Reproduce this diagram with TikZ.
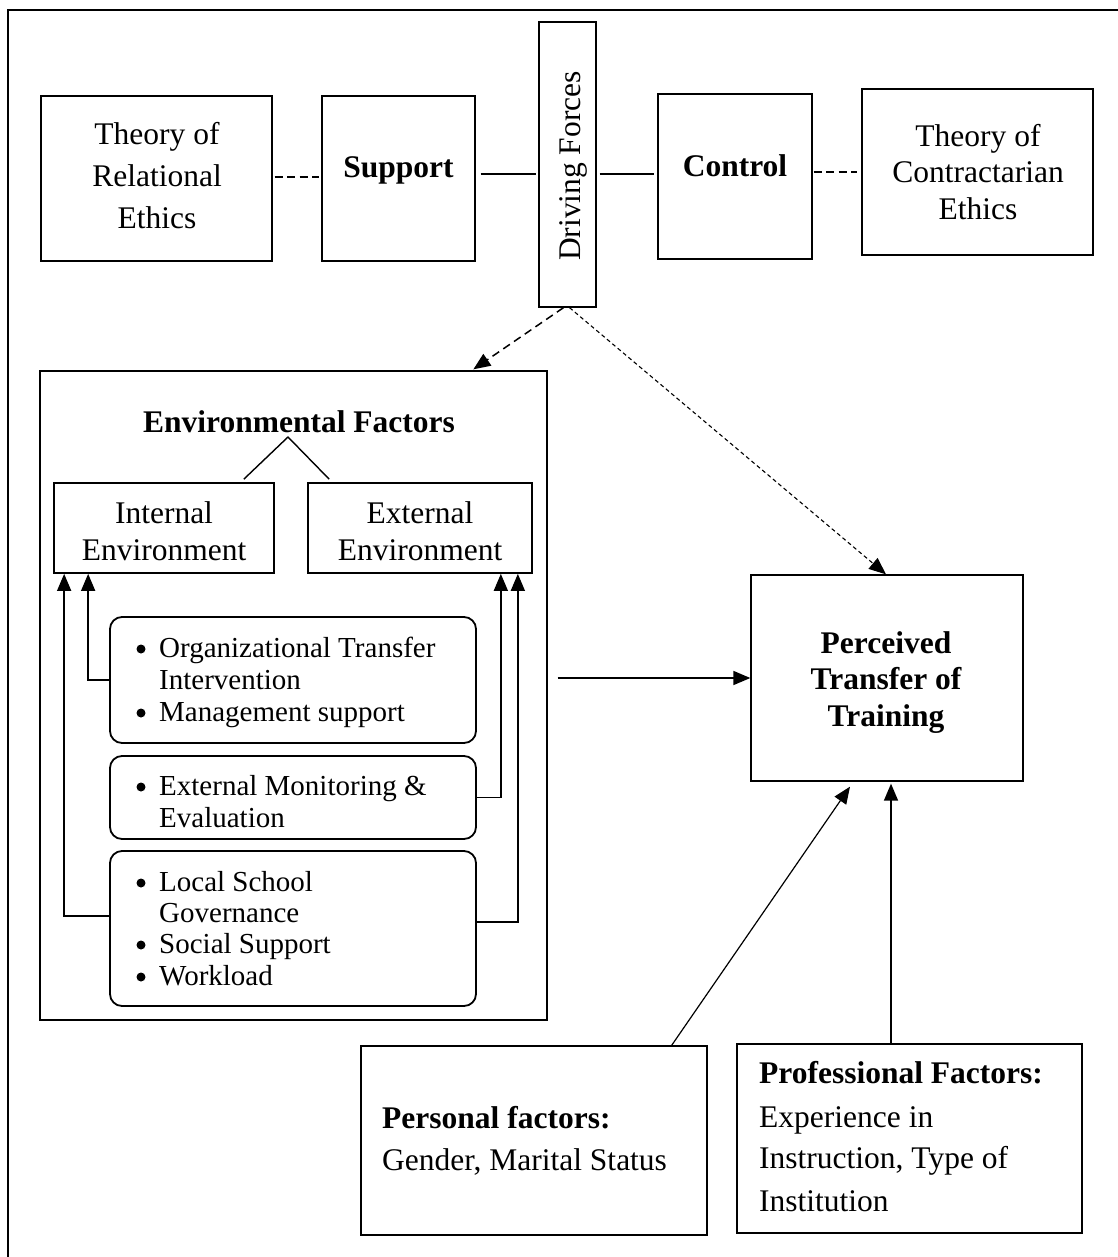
\documentclass[tikz,border=0pt]{standalone}
\usepackage{fontspec}
\setmainfont{Liberation Serif}
\usetikzlibrary{arrows.meta}
\newcommand\txtN{\fontsize{31.5}{38}\selectfont}
\newcommand\txtB{\fontsize{31.5}{38}\selectfont\bfseries}
\newcommand\txtS{\fontsize{29}{32}\selectfont}
\begin{document}
\begin{tikzpicture}[x=1pt,y=-1pt,
  box/.style={draw, line width=1.3pt, inner sep=0, rectangle},
  rbox/.style={draw, line width=1.8pt, rounded corners=12pt, inner sep=0, rectangle},
  lbl/.style={inner sep=0, anchor=base, font=\txtN},
  lblb/.style={inner sep=0, anchor=base, font=\txtB},
  lblw/.style={inner sep=0, anchor=base west, font=\txtS},
  lblpw/.style={inner sep=0, anchor=base west, font=\txtN},
  lblpb/.style={inner sep=0, anchor=base west, font=\txtB},
  bul/.style={circle, fill, inner sep=0, minimum size=9pt},
  conn/.style={line width=1.4pt},
  dconn/.style={line width=1.4pt, dash pattern=on 8pt off 4.5pt},
  arr/.style={line width=1.5pt, -{Triangle[length=17pt,width=14pt]}},
  darr/.style={line width=1.5pt, dash pattern=on 8pt off 5pt, -{Triangle[length=17pt,width=14pt]}},
  farr/.style={line width=1.1pt, dash pattern=on 4pt off 3pt, -{Triangle[length=17pt,width=14pt]}}
]
\useasboundingbox (0,0) rectangle (1117,1257);
% outer frame (clipped on right and bottom)
\draw[line width=1.6pt] (8,1300) -- (8,10) -- (1200,10);

% top row
\node[box, minimum width=231, minimum height=165] (rel) at (156.5,178.5) {};
\node[box, minimum width=153, minimum height=165] (sup) at (398.5,178.5) {};
\node[box, minimum width=57, minimum height=285] (drv) at (567.5,164.5) {};
\node[box, minimum width=154, minimum height=165] (ctl) at (735,176.5) {};
\node[box, minimum width=231, minimum height=166] (con) at (977.5,172) {};

\node[lbl] (rel1) at (157,145) {Theory of};
\node[lbl] (rel2) at (157,187) {Relational};
\node[lbl] (rel3) at (157,229) {Ethics};
\node[lblb] (supt) at (398.5,178) {Support};
\node[lbl, rotate=90] (drvt) at (580,166) {Driving Forces};
\node[lblb] (ctlt) at (735,177) {Control};
\node[lbl] (con1) at (978,147) {Theory of};
\node[lbl] (con2) at (978,183) {Contractarian};
\node[lbl] (con3) at (978,220) {Ethics};

\draw[dconn] ([shift={(2,-1.5)}]rel.east) -- ([shift={(-2,-1.5)}]sup.west);
\draw[conn] ([shift={(5,-4.5)}]sup.east) -- ([shift={(-2,-4.5)}]sup.east -| drv.west);
\draw[conn] ([shift={(3,-2.5)}]ctl.west -| drv.east) -- ([shift={(-3,-2.5)}]ctl.west);
\draw[dconn] ([xshift=1]ctl.east |- con.west) -- ([xshift=-4]con.west);

% environmental factors block
\node[box, minimum width=507, minimum height=649] (env) at (293.5,695.5) {};
\node[lblb] (envt) at (299,432) {Environmental Factors};
\coordinate (apex) at (288,437);
\node[box, line width=1.7pt, minimum width=220, minimum height=90] (int) at (164,528) {};
\node[box, line width=1.7pt, minimum width=224, minimum height=90] (ext) at (420,528) {};
\node[lbl] (int1) at (164,523) {Internal};
\node[lbl] (int2) at (164,560) {Environment};
\node[lbl] (ext1) at (420,523) {External};
\node[lbl] (ext2) at (420,560) {Environment};
\draw[conn] ([shift={(-31,-3)}]int.north east) -- (apex) -- ([shift={(22,-3)}]ext.north west);

\node[rbox, minimum width=366, minimum height=126] (b1) at (293,680) {};
\node[rbox, minimum width=366, minimum height=83] (b2) at (293,797.5) {};
\node[rbox, minimum width=366, minimum height=155] (b3) at (293,928.5) {};

\node[bul] (b1b1) at (141,649) {};
\node[lblw] (b1t1) at (159,657) {Organizational Transfer};
\node[lblw] (b1t2) at (159,689) {Intervention};
\node[bul] (b1b2) at (141,713) {};
\node[lblw] (b1t3) at (159,721) {Management support};

\node[bul] (b2b1) at (141,787) {};
\node[lblw] (b2t1) at (159,795) {External Monitoring \&};
\node[lblw] (b2t2) at (159,827) {Evaluation};

\node[bul] (b3b1) at (141,883) {};
\node[lblw] (b3t1) at (159,891) {Local School};
\node[lblw] (b3t2) at (159,922) {Governance};
\node[bul] (b3b2) at (141,945) {};
\node[lblw] (b3t3) at (159,953) {Social Support};
\node[bul] (b3b3) at (141,977) {};
\node[lblw] (b3t4) at (159,985) {Workload};

\draw[arr] ([yshift=12.5]b3.west) -| ([xshift=11]int.south west);
\draw[arr] (b1.west) -| ([xshift=35]int.south west);
\draw[arr] (b2.east) -| ([xshift=-32]ext.south east);
\draw[arr] ([yshift=6.5]b3.east) -| ([xshift=-15]ext.south east);

% perceived transfer
\node[box, minimum width=272, minimum height=206] (ptt) at (887,678) {};
\node[lblb] (ptt1) at (886,653) {Perceived};
\node[lblb] (ptt2) at (886,689) {Transfer of};
\node[lblb] (ptt3) at (886,726) {Training};

% bottom boxes
\node[box, minimum width=346, minimum height=189] (pers) at (534,1140.5) {};
\node[box, minimum width=345, minimum height=189] (prof) at (909.5,1138.5) {};
\node[lblpb] (pers1) at (382,1128) {Personal factors:};
\node[lblpw] (pers2) at (382,1170) {Gender, Marital Status};
\node[lblpb] (prof1) at (759,1083) {Professional Factors:};
\node[lblpw] (prof2) at (759,1127) {Experience in};
\node[lblpw] (prof3) at (759,1168) {Instruction, Type of};
\node[lblpw] (prof4) at (759,1211) {Institution};

% connectors
\draw[darr] ([xshift=-4]drv.south) -- ([shift={(434,-1)}]env.north west);
\draw[farr] ([xshift=2]drv.south) -- ([xshift=-1]ptt.north);
\draw[arr] ([xshift=10]env.east |- ptt.west) -- (ptt.west);
\draw[line width=1.2pt, -{Triangle[length=17pt,width=14pt]}] ([xshift=-36]pers.north east) -- ([shift={(-37,5)}]ptt.south);
\draw[arr] ([xshift=4]ptt.south |- prof.north) -- ([shift={(4,2)}]ptt.south);
\end{tikzpicture}
\end{document}
